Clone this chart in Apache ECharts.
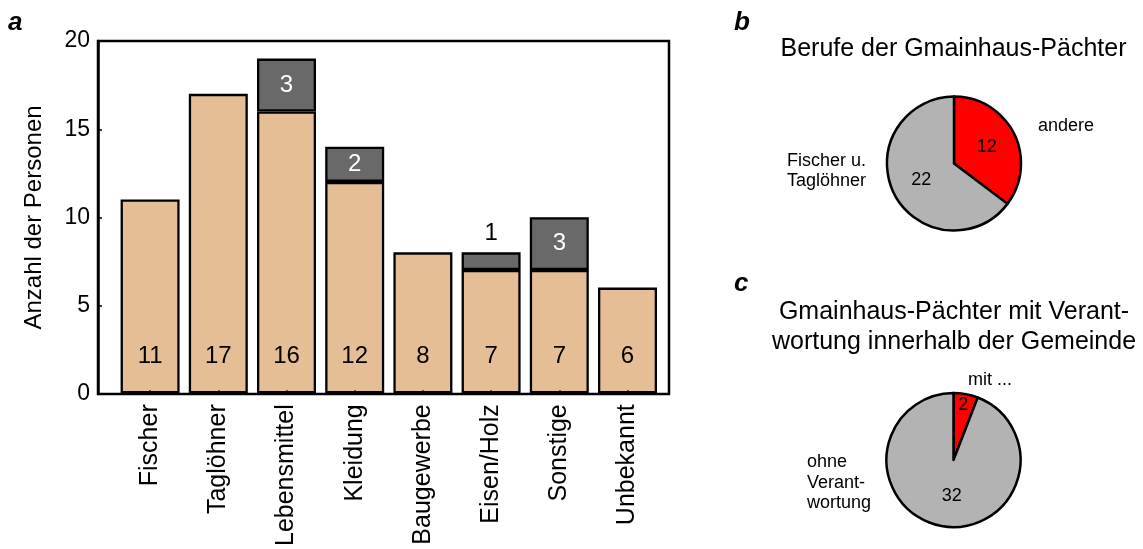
<!DOCTYPE html>
<html><head><meta charset="utf-8">
<script src="https://cdn.jsdelivr.net/npm/echarts@6/dist/echarts.min.js"></script>
<style>html,body{margin:0;padding:0;background:#fff}#c{width:1143px;height:549px}</style>
</head><body><div id="c"></div>
<script>
// ---- data ----
const categories = ['Fischer', 'Taglöhner', 'Lebensmittel', 'Kleidung', 'Baugewerbe', 'Eisen/Holz', 'Sonstige', 'Unbekannt'];
const baseValues = [11, 17, 16, 12, 8, 7, 7, 6];
const extraValues = [0, 0, 3, 2, 0, 1, 3, 0];
const yMin = 0, yMax = 20, yStep = 5;
const pieBNames = ['andere', 'Fischer u.\nTaglöhner'];
const pieBValues = [12, 22];
const pieCNames = ['mit ...', 'ohne\nVerant-\nwortung'];
const pieCValues = [2, 32];
const titleB = 'Berufe der Gmainhaus-Pächter';
const titleC = 'Gmainhaus-Pächter mit Verant-\nwortung innerhalb der Gemeinde';
const yName = 'Anzahl der Personen';

// ---- style ----
const FONT = '"Liberation Sans", Arial, sans-serif';
const ORANGE = '#E5BE96', DARK = '#696969', RED = '#FF0000', GREY = '#B3B3B3';
const pieColors = [RED, GREY];
const namePosB = [[1038, 126], [787, 171]];
const namePosC = [[968, 380], [807, 483]];
const valueShiftC = [{dx: 3, dy: -19}, {dx: 5, dy: 0}];

const chart = echarts.init(document.getElementById('c'), null, {renderer: 'canvas'});

function pieData(names, values, transparent) {
  return values.map((v, i) => ({
    name: names[i], value: v,
    itemStyle: transparent ? {color: 'rgba(0,0,0,0)', borderWidth: 0} : {color: pieColors[i]}
  }));
}

function valuePie(center, names, values, shift) {
  return {
    type: 'pie', center: center, radius: 67, startAngle: 90, clockwise: true,
    avoidLabelOverlap: false, silent: true, animation: false,
    itemStyle: {borderColor: '#000', borderWidth: 2.5},
    label: {show: true, position: 'inside', formatter: '{c}', fontSize: 18, color: '#000', fontFamily: FONT},
    labelLine: {show: false},
    labelLayout: shift ? function (p) { return shift[p.dataIndex]; } : undefined,
    data: pieData(names, values, false)
  };
}
function namePie(center, names, values, pos) {
  return {
    type: 'pie', center: center, radius: 67, startAngle: 90, clockwise: true,
    avoidLabelOverlap: false, silent: true, animation: false, z: 5,
    label: {show: true, position: 'outside', formatter: '{b}', fontSize: 18, lineHeight: 20.5, color: '#000', fontFamily: FONT},
    labelLine: {show: false},
    labelLayout: function (p) {
      const q = pos[p.dataIndex];
      return {x: q[0], y: q[1], align: 'left', verticalAlign: 'middle'};
    },
    data: pieData(names, values, true)
  };
}

const option = {
  animation: false,
  backgroundColor: '#fff',
  textStyle: {fontFamily: FONT},
  title: [
    {text: 'a', left: 8, top: 10, padding: 0, textStyle: {fontSize: 26, lineHeight: 26, fontWeight: 'bold', fontStyle: 'italic', color: '#000', fontFamily: FONT}},
    {text: 'b', left: 734, top: 10, padding: 0, textStyle: {fontSize: 26, lineHeight: 26, fontWeight: 'bold', fontStyle: 'italic', color: '#000', fontFamily: FONT}},
    {text: 'c', left: 734, top: 271, padding: 0, textStyle: {fontSize: 26, lineHeight: 26, fontWeight: 'bold', fontStyle: 'italic', color: '#000', fontFamily: FONT}},
    {text: titleB, left: 953.5, top: 34, padding: 0, textAlign: 'center', textStyle: {fontSize: 25, lineHeight: 30, fontWeight: 'normal', color: '#000', fontFamily: FONT}},
    {text: titleC, left: 954, top: 297, padding: 0, textAlign: 'center', textStyle: {fontSize: 25, lineHeight: 30, fontWeight: 'normal', color: '#000', fontFamily: FONT}}
  ],
  grid: [
    {left: 116, right: 1143 - 661.6, top: 41, bottom: 549 - 394, containLabel: false},
    {left: 98, right: 1143 - 669, top: 41, bottom: 549 - 394, show: true, borderColor: '#000', borderWidth: 2.5, backgroundColor: 'transparent', z: 1}
  ],
  xAxis: [
    {
      type: 'category', gridIndex: 0, data: categories, z: 10,
      axisLine: {show: false},
      axisTick: {show: true, inside: true, length: 3, alignWithLabel: true, lineStyle: {color: '#000', width: 1.5}},
      axisLabel: {rotate: 90, margin: 11, fontSize: 25, color: '#000', fontFamily: FONT, interval: 0},
      splitLine: {show: false}
    },
    {type: 'value', gridIndex: 1, show: false, min: 0, max: 1}
  ],
  yAxis: [
    {type: 'value', gridIndex: 0, min: yMin, max: yMax, interval: yStep, show: false},
    {
      type: 'value', gridIndex: 1, min: yMin, max: yMax, interval: yStep, z: 10,
      name: yName, nameLocation: 'middle', nameGap: 52, nameRotate: 90,
      nameTextStyle: {fontSize: 24, color: '#000', fontFamily: FONT},
      axisLine: {show: true, lineStyle: {color: '#000', width: 2.5}},
      axisTick: {show: true, inside: true, length: 4, lineStyle: {color: '#000', width: 1.5}},
      axisLabel: {margin: 8, fontSize: 23, color: '#000', fontFamily: FONT},
      splitLine: {show: false}
    }
  ],
  series: [
    {
      type: 'bar', xAxisIndex: 0, yAxisIndex: 0, stack: 'a', barWidth: 59,
      itemStyle: {color: ORANGE, borderColor: '#000', borderWidth: 2.3},
      label: {show: true, position: 'insideBottom', distance: 25, fontSize: 24, color: '#000', fontFamily: FONT},
      data: baseValues
    },
    {
      type: 'bar', xAxisIndex: 0, yAxisIndex: 0, stack: 'a', barWidth: 59,
      itemStyle: {color: DARK, borderColor: '#000', borderWidth: 2.3},
      label: {show: true, position: 'inside', fontSize: 24, color: '#fff', fontFamily: FONT},
      data: extraValues.map((v, i) => {
        if (!v) return '-';
        const seg = v / (yMax - yMin);
        return seg < 0.1
          ? {value: v, label: {position: 'top', distance: 7, color: '#000'}}
          : v;
      })
    },
    valuePie([954, 163.5], pieBNames, pieBValues, null),
    namePie([954, 163.5], pieBNames, pieBValues, namePosB),
    valuePie([953.5, 460], pieCNames, pieCValues, valueShiftC),
    namePie([953.5, 460], pieCNames, pieCValues, namePosC)
  ]
};
chart.setOption(option);
</script></body></html>
